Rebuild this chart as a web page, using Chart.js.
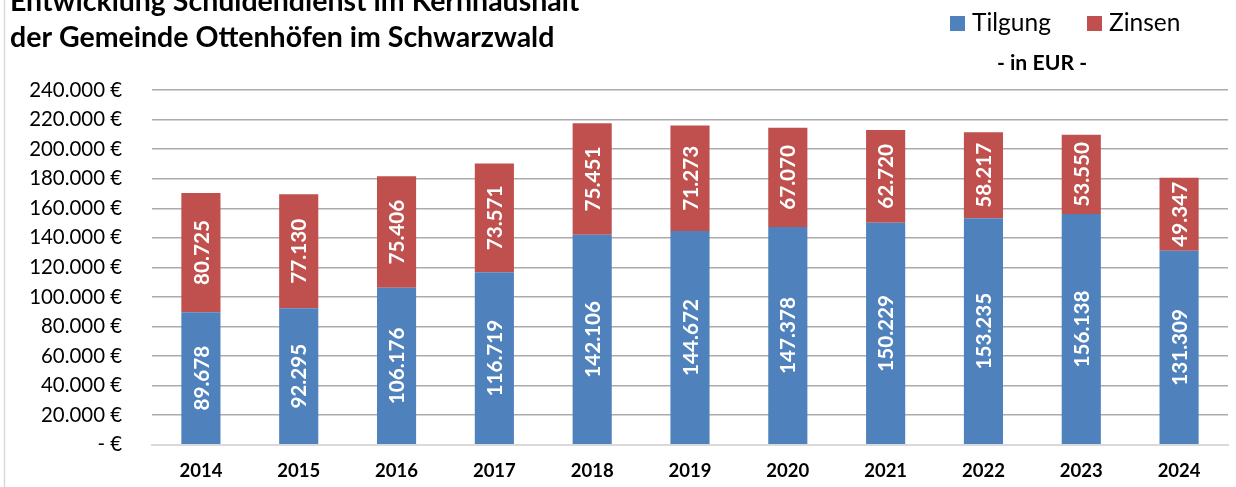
<!DOCTYPE html>
<html>
<head>
<meta charset="utf-8">
<script src="https://cdn.jsdelivr.net/npm/chart.js@4.4.1/dist/chart.umd.min.js"></script>
<style>
  html, body { margin: 0; padding: 0; background: #ffffff; }
  #wrap { width: 1236px; height: 487px; position: relative; }
</style>
</head>
<body>
<div id="wrap"><canvas id="chart" width="1236" height="487"></canvas></div>
<script>
// Daten
const years = ["2014", "2015", "2016", "2017", "2018", "2019", "2020", "2021", "2022", "2023", "2024"];
const tilgung = [89678, 92295, 106176, 116719, 142106, 144672, 147378, 150229, 153235, 156138, 131309];
const zinsen = [80725, 77130, 75406, 73571, 75451, 71273, 67070, 62720, 58217, 53550, 49347];
const yMax = 240000;
const yStep = 20000;

const titleLines = ["Entwicklung Schuldendienst im Kernhaushalt", "der Gemeinde Ottenhöfen im Schwarzwald"];
const unitText = "- in EUR -";

const FONT = "Lato";

// Tausenderpunkt wie im Original
function fmt(v) {
  return String(Math.round(v)).replace(/\B(?=(\d{3})+(?!\d))/g, ".");
}

// Schriftgroesse so waehlen, dass ein Mustertext die Breite aus dem Original hat
// (Lato statt Calibri, daher messen statt raten)
const measureCtx = document.createElement("canvas").getContext("2d");
function fitSize(text, weight, width) {
  measureCtx.font = weight + " 100px " + FONT;
  return Math.round((100 * width / measureCtx.measureText(text).width) * 10) / 10;
}
const titleSize = fitSize(titleLines[1], "bold", 545);
const tickSize = fitSize("240.000 €", "normal", 93);
const yearSize = fitSize("2014", "bold", 43);
const valueSize = fitSize("142.106", "bold", 77);
const legendSize = fitSize("Tilgung", "normal", 79);
const unitSize = fitSize(unitText, "bold", 90);

// Zeichnet Titel, Legende, Rahmen und die gedrehten Werte
const extras = {
  id: "extras",
  afterDatasetsDraw(chart) {
    const ctx = chart.ctx;
    ctx.save();

    // Werte in den Balken
    ctx.fillStyle = "#ffffff";
    ctx.font = "bold " + valueSize + "px " + FONT;
    ctx.textAlign = "center";
    ctx.textBaseline = "middle";
    chart.data.datasets.forEach((ds, i) => {
      const meta = chart.getDatasetMeta(i);
      meta.data.forEach((bar, j) => {
        const cy = (bar.y + bar.base) / 2;
        ctx.save();
        ctx.translate(bar.x, cy);
        ctx.rotate(-Math.PI / 2);
        ctx.fillText(fmt(ds.data[j]), 0, 1);
        ctx.restore();
      });
    });
    ctx.restore();
  },
  afterDraw(chart) {
    const ctx = chart.ctx;
    ctx.save();

    // Rahmen links
    ctx.strokeStyle = "#d9d9d9";
    ctx.lineWidth = 1.5;
    ctx.beginPath();
    ctx.moveTo(4.5, 0);
    ctx.lineTo(4.5, chart.height);
    ctx.stroke();

    // Titel
    ctx.fillStyle = "#000000";
    ctx.font = "bold " + titleSize + "px " + FONT;
    ctx.textAlign = "left";
    ctx.textBaseline = "alphabetic";
    ctx.fillText(titleLines[0], 10, 11);
    ctx.fillText(titleLines[1], 10, 47);

    // Legende
    const items = [
      { x: 950, ds: chart.data.datasets[0] },
      { x: 1087, ds: chart.data.datasets[1] }
    ];
    ctx.font = legendSize + "px " + FONT;
    ctx.textBaseline = "middle";
    items.forEach((it) => {
      ctx.fillStyle = it.ds.backgroundColor;
      ctx.fillRect(it.x, 16, 15, 15);
      ctx.fillStyle = "#000000";
      ctx.fillText(it.ds.label, it.x + 22, 23);
    });

    ctx.font = "bold " + unitSize + "px " + FONT;
    ctx.textAlign = "center";
    ctx.fillText(unitText, 1042, 63);
    ctx.restore();
  }
};

new Chart(document.getElementById("chart"), {
  type: "bar",
  data: {
    labels: years,
    datasets: [
      {
        label: "Tilgung",
        data: tilgung,
        backgroundColor: "#4f81bd"
      },
      {
        label: "Zinsen",
        data: zinsen,
        backgroundColor: "#c0504d"
      }
    ]
  },
  options: {
    responsive: false,
    animation: false,
    events: [],
    layout: { padding: { left: 0, right: 8, top: 90, bottom: 0 } },
    datasets: {
      bar: { categoryPercentage: 1, barPercentage: 0.4 }
    },
    plugins: {
      legend: { display: false },
      title: { display: false },
      tooltip: { enabled: false }
    },
    scales: {
      x: {
        stacked: true,
        grid: { display: false, drawTicks: false },
        border: { display: true, color: "#d9d9d9", width: 2 },
        ticks: {
          color: "#000000",
          padding: 15,
          maxRotation: 0,
          font: { family: FONT, size: yearSize, weight: "bold" }
        },
        afterFit(scale) { scale.height = 41; }
      },
      y: {
        stacked: true,
        min: 0,
        max: yMax,
        grid: {
          drawTicks: false,
          color: (c) => (c.tick && c.tick.value === 0 ? "#d9d9d9" : "#ababab"),
          lineWidth: 1.5
        },
        border: { display: false },
        ticks: {
          stepSize: yStep,
          color: "#000000",
          padding: 30,
          font: { family: FONT, size: tickSize },
          callback: (v) => (v === 0 ? "- €" : fmt(v) + " €")
        },
        afterFit(scale) { scale.width = 152; }
      }
    }
  },
  plugins: [extras]
});
</script>
</body>
</html>
